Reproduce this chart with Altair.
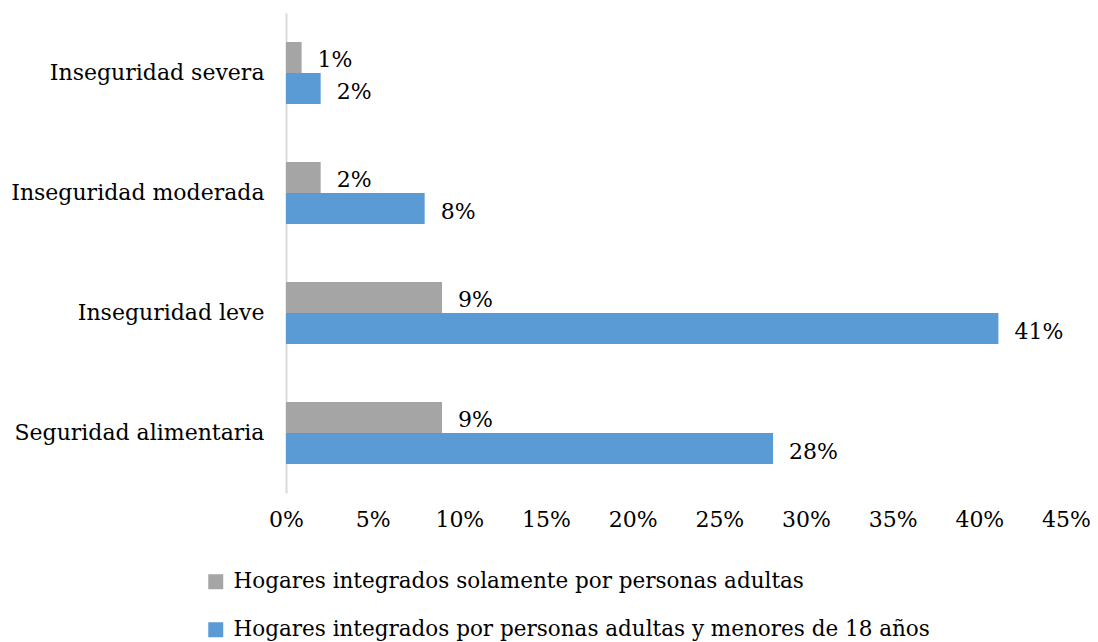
import altair as alt
import pandas as pd

categories = ["Inseguridad severa", "Inseguridad moderada", "Inseguridad leve", "Seguridad alimentaria"]
series = ["Hogares integrados solamente por personas adultas",
          "Hogares integrados por personas adultas y menores de 18 años"]
adultos = [0.009, 0.02, 0.09, 0.09]
con_menores = [0.02, 0.08, 0.411, 0.281]
colors = ["#A5A5A5", "#5B9BD5"]

rows = []
for c, a, m in zip(categories, adultos, con_menores):
    rows.append({"cat": c, "serie": series[0], "val": a})
    rows.append({"cat": c, "serie": series[1], "val": m})
df = pd.DataFrame(rows)

FONT = "DejaVu Serif"
FS = 22

y_enc = alt.Y("cat:N", sort=categories,
              scale=alt.Scale(paddingInner=0.483, paddingOuter=0.2415),
              axis=alt.Axis(title=None, ticks=False, domainColor="#D9D9D9", domainWidth=2,
                            labelFont=FONT, labelFontSize=FS, labelColor="#000000",
                            labelPadding=22, labelLimit=400))
yoff = alt.YOffset("serie:N", sort=series, scale=alt.Scale(paddingInner=0, paddingOuter=0))
x_enc = alt.X("val:Q", scale=alt.Scale(domain=[0, 0.45], nice=False),
              axis=alt.Axis(title=None, format=".0%", values=[i * 0.05 for i in range(10)],
                            grid=False, ticks=False, domain=False, labelFlush=False,
                            labelFont=FONT, labelFontSize=FS, labelColor="#000000",
                            labelPadding=16))

bars = alt.Chart(df).mark_bar().encode(
    y=y_enc, yOffset=yoff, x=x_enc,
    color=alt.Color("serie:N", sort=series,
                    scale=alt.Scale(domain=series, range=colors),
                    legend=alt.Legend(title=None, orient="none", legendX=-81, legendY=558,
                                      direction="vertical", symbolType="square", symbolSize=225,
                                      symbolStrokeWidth=0, labelFont=FONT, labelFontSize=21.5,
                                      labelColor="#000000", labelLimit=1000, rowPadding=25,
                                      symbolOffset=0, labelOffset=7)),
)

labels = alt.Chart(df).mark_text(align="left", baseline="middle", dx=16, dy=3,
                                 font=FONT, fontSize=FS, color="#000000").encode(
    y=alt.Y("cat:N", sort=categories), yOffset=yoff, x=alt.X("val:Q"),
    text=alt.Text("val:Q", format=".0%"),
)

chart = (bars + labels).properties(
    width=780, height=480,
    autosize=alt.AutoSizeParams(type="none"),
    padding={"left": 278, "top": 5, "right": 24, "bottom": 148},
    background="#FFFFFF",
).configure_view(stroke=None)

chart.save("out.html", embed_options={"renderer": "svg", "actions": False})
